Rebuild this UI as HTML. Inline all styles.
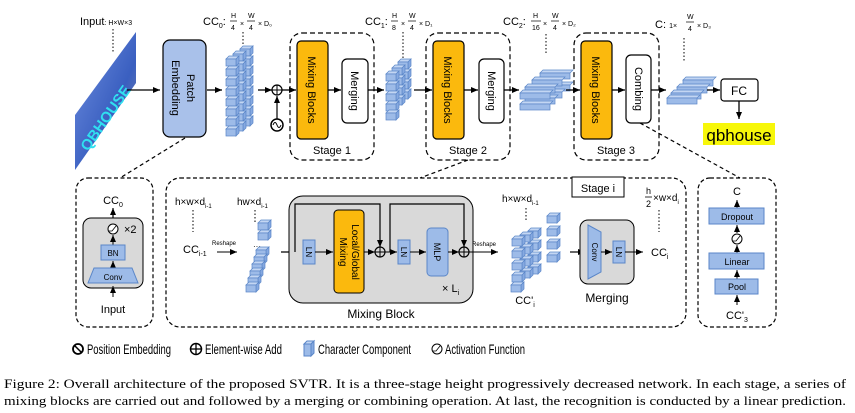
<!DOCTYPE html>
<html><head><meta charset="utf-8"><style>
html,body{margin:0;padding:0;background:#fff;}
svg{display:block;font-family:"Liberation Sans",sans-serif;}
.cap{font-family:"Liberation Serif",serif;}
</style></head><body>
<svg width="855" height="413" viewBox="0 0 855 413" xmlns="http://www.w3.org/2000/svg">
<defs>
<marker id="a" markerWidth="8" markerHeight="8" refX="7" refY="4" orient="auto" markerUnits="userSpaceOnUse"><path d="M0,1 L7,4 L0,7 z" fill="#000"/></marker>
<g id="cb"><path d="M0,3 L3,0 L13,0 L10,3 z" fill="#c3d6f3" stroke="#5a86c8" stroke-width="0.7"/><path d="M10,3 L13,0 L13,7 L10,10 z" fill="#86a9e0" stroke="#5a86c8" stroke-width="0.7"/><rect x="0" y="3" width="10" height="7" fill="#9dbbe8" stroke="#5a86c8" stroke-width="0.7"/></g>
<g id="bar"><path d="M0,3 L3,0 L33,0 L30,3 z" fill="#c3d6f3" stroke="#5a86c8" stroke-width="0.7"/><rect x="0" y="3" width="30" height="6" fill="#9dbbe8" stroke="#5a86c8" stroke-width="0.7"/></g>
<linearGradient id="img" x1="0" y1="0" x2="1" y2="1"><stop offset="0" stop-color="#6f8fe0"/><stop offset="0.6" stop-color="#3a5fc0"/><stop offset="1" stop-color="#8a8aa0"/></linearGradient>
</defs>

<text x="80" y="25" font-size="11">Input<tspan font-size="7">: H×W×3</tspan></text>
<line x1="113" y1="29" x2="113" y2="52" stroke="#000" stroke-dasharray="1.5,2"/>
<polygon points="75,115 136,32 136,83 75,170" fill="url(#img)"/>
<text x="0" y="0" font-size="15" font-weight="bold" fill="#30e0f0" transform="translate(88,152) rotate(-55)">QBHOUSE</text>
<line x1="127" y1="90" x2="160" y2="90" stroke="#000" stroke-width="1.3" marker-end="url(#a)"/>

<rect x="163" y="40" width="43" height="97" rx="7" fill="#a9c1ea" stroke="#000" stroke-width="1.2"/>
<text transform="translate(187,88) rotate(90)" font-size="11" text-anchor="middle">Patch</text>
<text transform="translate(172,88) rotate(90)" font-size="11" text-anchor="middle">Embedding</text>
<line x1="207" y1="90" x2="222" y2="90" stroke="#000" stroke-width="1.3" marker-end="url(#a)"/>

<text x="203" y="25" font-size="11">CC<tspan font-size="7" dy="3">0</tspan><tspan dy="-3">: </tspan></text>
<text x="231" y="18" font-size="7">H</text><line x1="230" y1="21" x2="237" y2="21" stroke="#000" stroke-width="0.7"/><text x="231" y="30" font-size="7">4</text>
<text x="240" y="26" font-size="7">×</text>
<text x="248" y="18" font-size="7">W</text><line x1="247" y1="21" x2="255" y2="21" stroke="#000" stroke-width="0.7"/><text x="249" y="30" font-size="7">4</text>
<text x="258" y="26" font-size="7">× D₀</text>
<line x1="243" y1="32" x2="243" y2="48" stroke="#000" stroke-dasharray="1.5,2"/>
<g>
<use href="#cb" x="240" y="46"/><use href="#cb" x="240" y="56"/><use href="#cb" x="240" y="66"/><use href="#cb" x="240" y="76"/><use href="#cb" x="240" y="86"/><use href="#cb" x="240" y="96"/><use href="#cb" x="240" y="106"/><use href="#cb" x="240" y="116"/>
<use href="#cb" x="233" y="51"/><use href="#cb" x="233" y="61"/><use href="#cb" x="233" y="71"/><use href="#cb" x="233" y="81"/><use href="#cb" x="233" y="91"/><use href="#cb" x="233" y="101"/><use href="#cb" x="233" y="111"/><use href="#cb" x="233" y="121"/>
<use href="#cb" x="226" y="56"/><use href="#cb" x="226" y="66"/><use href="#cb" x="226" y="76"/><use href="#cb" x="226" y="86"/><use href="#cb" x="226" y="96"/><use href="#cb" x="226" y="106"/><use href="#cb" x="226" y="116"/><use href="#cb" x="226" y="126"/>
</g>
<line x1="258" y1="90" x2="272" y2="90" stroke="#000" stroke-width="1.3" marker-end="url(#a)"/>
<circle cx="277" cy="90" r="5" fill="#fff" stroke="#000" stroke-width="1.2"/><line x1="272" y1="90" x2="282" y2="90" stroke="#000"/><line x1="277" y1="85" x2="277" y2="95" stroke="#000"/>
<line x1="277" y1="119" x2="277" y2="96" stroke="#000" stroke-width="1.2" marker-end="url(#a)"/>
<circle cx="277" cy="125" r="6" fill="#fff" stroke="#000" stroke-width="1.5"/><path d="M273,125 q2,-5 4,0 q2,5 4,0" fill="none" stroke="#000"/>
<line x1="282" y1="90" x2="296" y2="90" stroke="#000" stroke-width="1.3" marker-end="url(#a)"/>

<rect x="290" y="33" width="84" height="127" rx="12" fill="none" stroke="#000" stroke-width="1.2" stroke-dasharray="5,3"/>
<rect x="297" y="41" width="31" height="98" rx="4" fill="#fbb90d" stroke="#000" stroke-width="1.2"/>
<text transform="translate(308,90) rotate(90)" font-size="11" text-anchor="middle">Mixing  Blocks</text>
<line x1="328" y1="90" x2="341" y2="90" stroke="#000" stroke-width="1.3" marker-end="url(#a)"/>
<rect x="342" y="59" width="26" height="64" rx="5" fill="#fff" stroke="#000" stroke-width="1.2"/>
<text transform="translate(351,91) rotate(90)" font-size="11" text-anchor="middle">Merging</text>
<text x="332" y="154" font-size="11" text-anchor="middle">Stage 1</text>
<line x1="368" y1="90" x2="384" y2="90" stroke="#000" stroke-width="1.3" marker-end="url(#a)"/>

<text x="365" y="25" font-size="11">CC<tspan font-size="7" dy="3">1</tspan><tspan dy="-3">:</tspan></text>
<text x="392" y="18" font-size="7">H</text><line x1="391" y1="21" x2="398" y2="21" stroke="#000" stroke-width="0.7"/><text x="392" y="30" font-size="7">8</text>
<text x="401" y="26" font-size="7">×</text>
<text x="409" y="18" font-size="7">W</text><line x1="408" y1="21" x2="416" y2="21" stroke="#000" stroke-width="0.7"/><text x="410" y="30" font-size="7">4</text>
<text x="419" y="26" font-size="7">× D₁</text>
<line x1="403" y1="32" x2="403" y2="58" stroke="#000" stroke-dasharray="1.5,2"/>
<g>
<use href="#cb" x="398" y="59"/><use href="#cb" x="398" y="69"/><use href="#cb" x="398" y="79"/><use href="#cb" x="398" y="89"/>
<use href="#cb" x="392" y="65"/><use href="#cb" x="392" y="75"/><use href="#cb" x="392" y="85"/><use href="#cb" x="392" y="95"/>
<use href="#cb" x="386" y="71"/><use href="#cb" x="386" y="81"/><use href="#cb" x="386" y="91"/><use href="#cb" x="386" y="101"/><use href="#cb" x="386" y="110"/>
</g>
<line x1="414" y1="90" x2="432" y2="90" stroke="#000" stroke-width="1.3" marker-end="url(#a)"/>

<rect x="426" y="33" width="84" height="127" rx="12" fill="none" stroke="#000" stroke-width="1.2" stroke-dasharray="5,3"/>
<rect x="433" y="41" width="31" height="98" rx="4" fill="#fbb90d" stroke="#000" stroke-width="1.2"/>
<text transform="translate(444,90) rotate(90)" font-size="11" text-anchor="middle">Mixing  Blocks</text>
<line x1="464" y1="90" x2="478" y2="90" stroke="#000" stroke-width="1.3" marker-end="url(#a)"/>
<rect x="479" y="59" width="25" height="64" rx="5" fill="#fff" stroke="#000" stroke-width="1.2"/>
<text transform="translate(488,91) rotate(90)" font-size="11" text-anchor="middle">Merging</text>
<text x="468" y="154" font-size="11" text-anchor="middle">Stage 2</text>
<line x1="504" y1="90" x2="519" y2="90" stroke="#000" stroke-width="1.3" marker-end="url(#a)"/>

<text x="503" y="25" font-size="11">CC<tspan font-size="7" dy="3">2</tspan><tspan dy="-3">:</tspan></text>
<text x="533" y="18" font-size="7">H</text><line x1="531" y1="21" x2="541" y2="21" stroke="#000" stroke-width="0.7"/><text x="532" y="30" font-size="7">16</text>
<text x="543" y="26" font-size="7">×</text>
<text x="552" y="18" font-size="7">W</text><line x1="551" y1="21" x2="559" y2="21" stroke="#000" stroke-width="0.7"/><text x="553" y="30" font-size="7">4</text>
<text x="562" y="26" font-size="7">× D₂</text>
<line x1="546" y1="34" x2="546" y2="55" stroke="#000" stroke-dasharray="1.5,2"/>
<g>
<use href="#bar" x="540" y="70"/><use href="#bar" x="540" y="82"/>
<use href="#bar" x="532" y="77"/><use href="#bar" x="532" y="89"/>
<use href="#bar" x="525" y="84"/><use href="#bar" x="525" y="95"/>
<use href="#bar" x="520" y="90"/><use href="#bar" x="520" y="101"/>
</g>
<line x1="566" y1="90" x2="580" y2="90" stroke="#000" stroke-width="1.3" marker-end="url(#a)"/>

<rect x="574" y="33" width="85" height="127" rx="12" fill="none" stroke="#000" stroke-width="1.2" stroke-dasharray="5,3"/>
<rect x="581" y="41" width="31" height="98" rx="4" fill="#fbb90d" stroke="#000" stroke-width="1.2"/>
<text transform="translate(592,90) rotate(90)" font-size="11" text-anchor="middle">Mixing  Blocks</text>
<line x1="612" y1="90" x2="625" y2="90" stroke="#000" stroke-width="1.3" marker-end="url(#a)"/>
<rect x="626" y="55" width="25" height="68" rx="5" fill="#fff" stroke="#000" stroke-width="1.2"/>
<text transform="translate(635,89) rotate(90)" font-size="11" text-anchor="middle">Combing</text>
<text x="616" y="154" font-size="11" text-anchor="middle">Stage 3</text>
<line x1="651" y1="90" x2="666" y2="90" stroke="#000" stroke-width="1.3" marker-end="url(#a)"/>

<text x="655" y="28" font-size="11">C: <tspan font-size="7">1×</tspan></text>
<text x="687" y="19" font-size="7">W</text><line x1="686" y1="22" x2="694" y2="22" stroke="#000" stroke-width="0.7"/><text x="688" y="31" font-size="7">4</text>
<text x="697" y="28" font-size="7">× D₃</text>
<line x1="684" y1="38" x2="684" y2="62" stroke="#000" stroke-dasharray="1.5,2"/>
<g>
<use href="#bar" x="683" y="77"/><use href="#bar" x="677" y="84"/><use href="#bar" x="671" y="90"/><use href="#bar" x="667" y="95"/>
</g>
<line x1="707" y1="90" x2="720" y2="90" stroke="#000" stroke-width="1.3" marker-end="url(#a)"/>
<rect x="721" y="79" width="37" height="22" rx="3" fill="#fff" stroke="#000" stroke-width="1.2"/>
<text x="739" y="95" font-size="12" text-anchor="middle">FC</text>
<line x1="739" y1="101" x2="739" y2="119" stroke="#000" stroke-width="1.3" marker-end="url(#a)"/>
<rect x="703" y="123" width="72" height="22" fill="#f7f70a"/>
<text x="739" y="141" font-size="17" text-anchor="middle">qbhouse</text>

<line x1="185" y1="138" x2="120" y2="178" stroke="#000" stroke-width="1.2" stroke-dasharray="4,3"/>
<line x1="468" y1="160" x2="420" y2="178" stroke="#000" stroke-width="1.2" stroke-dasharray="4,3"/>
<line x1="640" y1="123" x2="740" y2="178" stroke="#000" stroke-width="1.2" stroke-dasharray="4,3"/>

<rect x="76" y="178" width="77" height="149" rx="12" fill="none" stroke="#000" stroke-width="1.2" stroke-dasharray="4,2.5"/>
<text x="113" y="204" font-size="11" text-anchor="middle">CC<tspan font-size="7" dy="3">0</tspan></text>
<line x1="113" y1="218" x2="113" y2="208" stroke="#000" stroke-width="1.2" marker-end="url(#a)"/>
<rect x="83" y="218" width="60" height="70" rx="8" fill="#d9d9d9" stroke="#000" stroke-width="1"/>
<circle cx="113" cy="229" r="5" fill="#fff" stroke="#000"/><path d="M109,231 L112,231 L116,226" fill="none" stroke="#000" stroke-width="0.8"/>
<text x="124" y="233" font-size="11">×2</text>
<line x1="113" y1="245" x2="113" y2="235" stroke="#000" marker-end="url(#a)"/>
<rect x="101" y="245" width="24" height="15" fill="#9dbbe8" stroke="#5a86c8"/>
<text x="113" y="256" font-size="8" text-anchor="middle">BN</text>
<line x1="113" y1="268" x2="113" y2="261" stroke="#000" marker-end="url(#a)"/>
<polygon points="94,268 132,268 138,283 88,283" fill="#9dbbe8" stroke="#5a86c8"/>
<text x="113" y="280" font-size="8" text-anchor="middle">Conv</text>
<line x1="113" y1="297" x2="113" y2="286" stroke="#000" marker-end="url(#a)"/>
<text x="113" y="313" font-size="11" text-anchor="middle">Input</text>

<rect x="166" y="178" width="520" height="149" rx="14" fill="none" stroke="#000" stroke-width="1.2" stroke-dasharray="4,2.5"/>
<rect x="572" y="177" width="52" height="20" fill="#fff" stroke="#000"/>
<text x="598" y="192" font-size="11" text-anchor="middle">Stage i</text>
<text x="175" y="205" font-size="10">h×w×d<tspan font-size="6" dy="3">i-1</tspan></text>
<line x1="193" y1="210" x2="193" y2="232" stroke="#000" stroke-dasharray="1.5,2"/>
<text x="183" y="253" font-size="11">CC<tspan font-size="7" dy="3">i-1</tspan></text>
<text x="212" y="245" font-size="6">Reshape</text>
<line x1="217" y1="252" x2="237" y2="252" stroke="#000" marker-end="url(#a)"/>
<text x="237" y="205" font-size="10">hw×d<tspan font-size="6" dy="3">i-1</tspan></text>
<line x1="255" y1="210" x2="255" y2="222" stroke="#000" stroke-dasharray="1.5,2"/>
<use href="#cb" x="258" y="220"/><use href="#cb" x="258" y="230"/>
<text x="253" y="249" font-size="8">···</text>
<use href="#cb" x="256" y="247"/><use href="#cb" x="254" y="254"/><use href="#cb" x="252" y="261"/><use href="#cb" x="250" y="268"/><use href="#cb" x="248" y="275"/><use href="#cb" x="246" y="282"/>
<line x1="281" y1="252" x2="308" y2="252" stroke="#000" stroke-width="1.2" marker-end="url(#a)"/>

<rect x="289" y="196" width="184" height="107" rx="14" fill="#d9d9d9" stroke="#000" stroke-width="1"/>
<polyline points="295,252 295,204 380,204 380,247" fill="none" stroke="#000" stroke-width="1.2" marker-end="url(#a)"/>
<polyline points="390,252 390,204 464,204 464,247" fill="none" stroke="#000" stroke-width="1.2" marker-end="url(#a)"/>
<rect x="303" y="240" width="12" height="24" fill="#9dbbe8" stroke="#5a86c8"/>
<text transform="translate(306,252) rotate(90)" font-size="8" text-anchor="middle">LN</text>
<line x1="315" y1="252" x2="333" y2="252" stroke="#000" marker-end="url(#a)"/>
<rect x="334" y="210" width="30" height="83" rx="4" fill="#fbb90d" stroke="#000"/>
<text transform="translate(352,252) rotate(90)" font-size="10" text-anchor="middle">Local/Global</text>
<text transform="translate(340,252) rotate(90)" font-size="10" text-anchor="middle">Mixing</text>
<line x1="364" y1="252" x2="375" y2="252" stroke="#000" marker-end="url(#a)"/>
<circle cx="380" cy="252" r="5" fill="none" stroke="#000" stroke-width="1.2"/><line x1="375" y1="252" x2="385" y2="252" stroke="#000"/><line x1="380" y1="247" x2="380" y2="257" stroke="#000"/>
<line x1="385" y1="252" x2="397" y2="252" stroke="#000" marker-end="url(#a)"/>
<rect x="398" y="240" width="12" height="24" fill="#9dbbe8" stroke="#5a86c8"/>
<text transform="translate(401,252) rotate(90)" font-size="8" text-anchor="middle">LN</text>
<line x1="410" y1="252" x2="426" y2="252" stroke="#000" marker-end="url(#a)"/>
<rect x="427" y="228" width="21" height="48" rx="4" fill="#9dbbe8" stroke="#5a86c8"/>
<text transform="translate(434,252) rotate(90)" font-size="9" text-anchor="middle">MLP</text>
<line x1="448" y1="252" x2="459" y2="252" stroke="#000" marker-end="url(#a)"/>
<circle cx="464" cy="252" r="5" fill="none" stroke="#000" stroke-width="1.2"/><line x1="459" y1="252" x2="469" y2="252" stroke="#000"/><line x1="464" y1="247" x2="464" y2="257" stroke="#000"/>
<text x="442" y="292" font-size="11">× L<tspan font-size="7" dy="3">i</tspan></text>
<text x="381" y="318" font-size="12" text-anchor="middle">Mixing Block</text>
<text x="472" y="246" font-size="6">Reshape</text>
<line x1="469" y1="252" x2="498" y2="252" stroke="#000" marker-end="url(#a)"/>

<text x="502" y="202" font-size="10">h×w×d<tspan font-size="6" dy="3">i-1</tspan></text>
<line x1="526" y1="208" x2="526" y2="222" stroke="#000" stroke-dasharray="1.5,2"/>
<g>
<use href="#cb" x="547" y="213"/><use href="#cb" x="547" y="226"/><use href="#cb" x="547" y="239"/><use href="#cb" x="547" y="252"/>
<use href="#cb" x="528" y="228"/><use href="#cb" x="528" y="240"/><use href="#cb" x="528" y="252"/><use href="#cb" x="528" y="264"/>
<use href="#cb" x="520" y="232"/><use href="#cb" x="520" y="244"/><use href="#cb" x="520" y="256"/><use href="#cb" x="520" y="268"/>
<use href="#cb" x="512" y="236"/><use href="#cb" x="512" y="248"/><use href="#cb" x="512" y="260"/><use href="#cb" x="512" y="272"/>
<use href="#cb" x="511" y="282"/>
</g>
<text x="525" y="304" font-size="11" text-anchor="middle">CC'<tspan font-size="7" dy="3">i</tspan></text>
<line x1="570" y1="252" x2="585" y2="252" stroke="#000" stroke-width="1.2" marker-end="url(#a)"/>

<rect x="580" y="220" width="54" height="64" rx="8" fill="#d9d9d9" stroke="#000"/>
<polygon points="588,225 601,232 601,272 588,279" fill="#9dbbe8" stroke="#5a86c8"/>
<text transform="translate(592,252) rotate(90)" font-size="8" text-anchor="middle">Conv</text>
<line x1="601" y1="252" x2="612" y2="252" stroke="#000" marker-end="url(#a)"/>
<rect x="613" y="241" width="12" height="22" fill="#9dbbe8" stroke="#5a86c8"/>
<text transform="translate(616,252) rotate(90)" font-size="8" text-anchor="middle">LN</text>
<line x1="625" y1="252" x2="643" y2="252" stroke="#000" marker-end="url(#a)"/>
<text x="607" y="302" font-size="12" text-anchor="middle">Merging</text>
<text x="646" y="194" font-size="9">h</text><line x1="645" y1="197" x2="652" y2="197" stroke="#000" stroke-width="0.8"/><text x="646" y="207" font-size="9">2</text>
<text x="653" y="201" font-size="10">×w×d<tspan font-size="6" dy="3">i</tspan></text>
<line x1="659" y1="210" x2="659" y2="232" stroke="#000" stroke-dasharray="1.5,2"/>
<text x="651" y="256" font-size="11">CC<tspan font-size="7" dy="3">i</tspan></text>

<rect x="698" y="178" width="78" height="149" rx="12" fill="none" stroke="#000" stroke-width="1.2" stroke-dasharray="4,2.5"/>
<text x="737" y="195" font-size="11" text-anchor="middle">C</text>
<line x1="737" y1="208" x2="737" y2="200" stroke="#000" marker-end="url(#a)"/>
<rect x="709" y="208" width="55" height="16" fill="#9dbbe8" stroke="#5a86c8"/>
<text x="737" y="220" font-size="9" text-anchor="middle">Dropout</text>
<circle cx="737" cy="239" r="5" fill="#fff" stroke="#000"/><path d="M733,241 L736,241 L740,236" fill="none" stroke="#000" stroke-width="0.8"/>
<line x1="737" y1="233" x2="737" y2="225" stroke="#000" marker-end="url(#a)"/>
<line x1="737" y1="253" x2="737" y2="245" stroke="#000" marker-end="url(#a)"/>
<rect x="709" y="253" width="55" height="16" fill="#9dbbe8" stroke="#5a86c8"/>
<text x="737" y="265" font-size="9" text-anchor="middle">Linear</text>
<line x1="737" y1="279" x2="737" y2="270" stroke="#000" marker-end="url(#a)"/>
<rect x="715" y="279" width="43" height="15" fill="#9dbbe8" stroke="#5a86c8"/>
<text x="737" y="290" font-size="9" text-anchor="middle">Pool</text>
<line x1="737" y1="305" x2="737" y2="295" stroke="#000" marker-end="url(#a)"/>
<text x="737" y="319" font-size="11" text-anchor="middle">CC'<tspan font-size="7" dy="3">3</tspan></text>

<circle cx="78" cy="349" r="5" fill="none" stroke="#000" stroke-width="1.8"/><line x1="75" y1="346" x2="81" y2="352" stroke="#000" stroke-width="1.5"/>
<text x="87" y="354" font-size="14" textLength="84" lengthAdjust="spacingAndGlyphs">Position Embedding</text>
<circle cx="196" cy="349" r="5.5" fill="none" stroke="#000" stroke-width="1.5"/><line x1="190.5" y1="349" x2="201.5" y2="349" stroke="#000" stroke-width="1.3"/><line x1="196" y1="343.5" x2="196" y2="354.5" stroke="#000" stroke-width="1.3"/>
<text x="205" y="354" font-size="14" textLength="77" lengthAdjust="spacingAndGlyphs">Element-wise Add</text>
<path d="M304,344 L307,341 L314,341 L311,344 z" fill="#c3d6f3" stroke="#5a86c8"/><path d="M311,344 L314,341 L314,353 L311,356 z" fill="#86a9e0" stroke="#5a86c8"/><rect x="304" y="344" width="7" height="12" fill="#9dbbe8" stroke="#5a86c8"/>
<text x="318" y="354" font-size="14" textLength="93" lengthAdjust="spacingAndGlyphs">Character Component</text>
<circle cx="437" cy="349" r="5" fill="none" stroke="#000"/><path d="M433,351 L436,351 L440,346" fill="none" stroke="#000" stroke-width="0.8"/>
<text x="445" y="354" font-size="14" textLength="80" lengthAdjust="spacingAndGlyphs">Activation Function</text>

<text class="cap" x="4" y="388" font-size="12.2" textLength="842" lengthAdjust="spacingAndGlyphs">Figure 2: Overall architecture of the proposed SVTR. It is a three-stage height progressively decreased network. In each stage, a series of</text>
<text class="cap" x="4" y="405" font-size="12.2" textLength="842" lengthAdjust="spacingAndGlyphs">mixing blocks are carried out and followed by a merging or combining operation. At last, the recognition is conducted by a linear prediction.</text>
</svg>
</body></html>
